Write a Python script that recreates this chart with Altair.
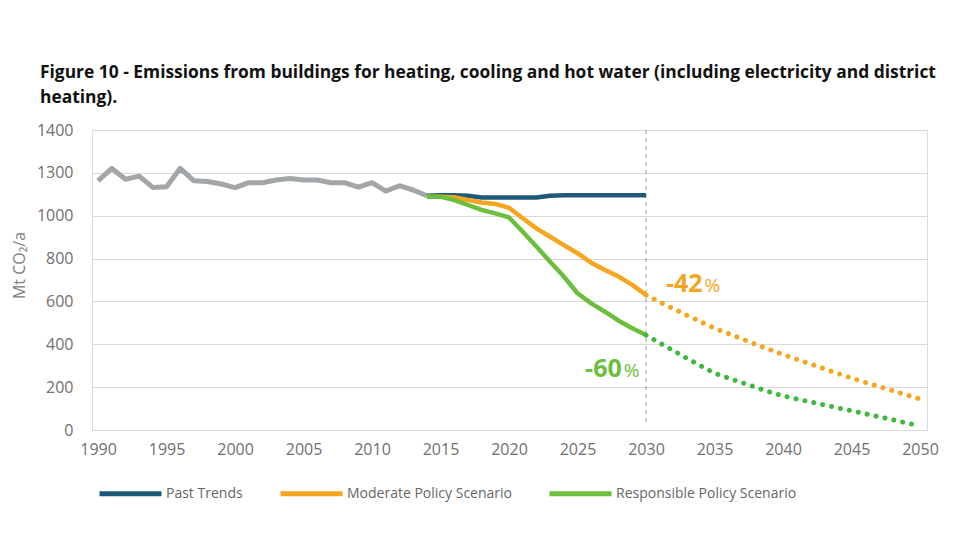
import altair as alt
import pandas as pd

# ---- data ----
hist_years = list(range(1990, 2015))
hist_values = [1163, 1221, 1170, 1185, 1132, 1135, 1221, 1163, 1160, 1148, 1131, 1154, 1154,
               1167, 1174, 1167, 1167, 1154, 1154, 1133, 1154, 1115, 1140, 1120, 1093]

proj_years = list(range(2014, 2031))
past_trends = [1093, 1095, 1095, 1093, 1085, 1085, 1085, 1085, 1085, 1093, 1095, 1095, 1095,
               1095, 1095, 1095, 1095]
moderate = [1089, 1089, 1086, 1073, 1062, 1055, 1037, 988, 941, 902, 863, 825, 781, 747, 716,
            677, 630]
responsible = [1089, 1089, 1073, 1050, 1027, 1011, 992, 925, 856, 785, 716, 638, 591, 552, 510,
               475, 443]

outlook_years = list(range(2030, 2051))
moderate_outlook = [630, 597, 566, 535, 505, 475, 450, 425, 400, 376, 352, 330, 308, 286, 264,
                    242, 222, 203, 183, 164, 145]
responsible_outlook = [443, 406, 370, 334, 299, 265, 243, 221, 199, 178, 159, 145, 131, 117, 103,
                       90, 76, 62, 48, 33, 19]

series_names = ["Past Trends", "Moderate Policy Scenario", "Responsible Policy Scenario"]
series_colors = ["#1d5a78", "#f6a51f", "#6cbf3c"]
gray = "#a3a6a8"

ann_labels = ["-42", "-60"]
ann_years = [2034.2, 2028.3]
ann_values = [645, 247]
ann_colors = ["#f6a51f", "#6cbf3c"]

y_ticks = [0, 200, 400, 600, 800, 1000, 1200, 1400]
x_ticks = list(range(1990, 2051, 5))

title_lines = [
    "Figure 10 - Emissions from buildings for heating, cooling and hot water (including electricity and district",
    "heating).",
]

# ---- tables ----
hist_df = pd.DataFrame({"year": hist_years, "value": hist_values})
proj_df = pd.DataFrame({
    "year": proj_years * 3,
    "value": past_trends + moderate + responsible,
    "series": [series_names[0]] * len(proj_years) + [series_names[1]] * len(proj_years)
              + [series_names[2]] * len(proj_years),
})
mod_out_df = pd.DataFrame({"year": outlook_years, "value": moderate_outlook})
res_out_df = pd.DataFrame({"year": outlook_years, "value": responsible_outlook})
ann_df = pd.DataFrame({"label": ann_labels, "year": ann_years, "value": ann_values,
                       "color": ann_colors, "pct": ["%", "%"]})
rule_df = pd.DataFrame({"year": [2030], "top": [1400], "bottom": [38]})

FONT = "Open Sans"
LABEL_COLOR = "#707070"

x_scale = alt.Scale(domain=[1989.56, 2050.51], nice=False, zero=False)
y_scale = alt.Scale(domain=[0, 1400], nice=False)

x_enc = alt.X("year:Q", scale=x_scale,
              axis=alt.Axis(values=x_ticks, format="d", grid=False, domain=False, ticks=False,
                            labelPadding=11, labelFontSize=16, labelColor=LABEL_COLOR,
                            labelFont=FONT, title=None))
y_enc = alt.Y("value:Q", scale=y_scale,
              axis=alt.Axis(values=y_ticks, format="d", grid=True, gridColor="#d9d9d9",
                            gridWidth=1, domain=False, ticks=False, labelPadding=19,
                            labelFontSize=16, labelColor=LABEL_COLOR, labelFont=FONT,
                            labelExpr="datum.value == 1200 ? '1300' : datum.label",
                            title="Mt CO₂/a", titleFont=FONT, titleFontSize=16,
                            titleFontWeight="normal", titleColor="#808080",
                            titleX=-65, titleY=135))

hist_line = alt.Chart(hist_df).mark_line(color=gray, strokeWidth=5, strokeJoin="round").encode(
    x=x_enc, y=y_enc)

rule = alt.Chart(rule_df).mark_rule(color="#9a9a9a", strokeDash=[4, 4], strokeWidth=1).encode(
    x="year:Q", y="top:Q", y2="bottom:Q")

proj_lines = alt.Chart(proj_df).mark_line(strokeWidth=4.5, strokeJoin="round").encode(
    x="year:Q", y="value:Q",
    order=alt.Order("year:Q"),
    color=alt.Color("series:N", sort=series_names,
                    scale=alt.Scale(domain=series_names, range=series_colors),
                    legend=alt.Legend(orient="none", legendX=5, legendY=330, direction="horizontal",
                                      title=None, symbolType="stroke", symbolSize=3844,
                                      symbolStrokeWidth=5, labelFontSize=14, labelFont=FONT,
                                      labelColor="#666666", columnPadding=27, labelOffset=2,
                                      labelLimit=400, padding=0)),
)

mod_dots = alt.Chart(mod_out_df).mark_line(color="#f6a51f", strokeWidth=5, strokeCap="round",
                                          strokeDash=[0.1, 9]).encode(x="year:Q", y="value:Q")
res_dots = alt.Chart(res_out_df).mark_line(color="#3fb83f", strokeWidth=5, strokeCap="round",
                                          strokeDash=[0.1, 9]).encode(x="year:Q", y="value:Q")

ann_num = alt.Chart(ann_df).mark_text(align="right", baseline="alphabetic", fontSize=25,
                                      fontWeight="bold", font=FONT, dx=-1).encode(
    x="year:Q", y="value:Q", text="label:N", color=alt.Color("color:N", scale=None))
ann_pct = alt.Chart(ann_df).mark_text(align="left", baseline="alphabetic", fontSize=19,
                                      fontWeight="normal", font=FONT, dx=1).encode(
    x="year:Q", y="value:Q", text="pct:N", color=alt.Color("color:N", scale=None))

chart = alt.layer(hist_line, rule, proj_lines, mod_dots, res_dots, ann_num, ann_pct).properties(
    width=835, height=300,
    autosize=alt.AutoSizeParams(type="none"),
    padding={"left": 84, "top": 122, "right": 40, "bottom": 100},
    title=alt.TitleParams(text=title_lines, anchor="start", frame="group", fontSize=17.4,
                          font=FONT, fontWeight="bold", color="#111111", lineHeight=25,
                          dx=-52, offset=16),
).configure_view(stroke=None).configure(background="white")

chart.save("out.html", embed_options={"renderer": "svg", "actions": False})
